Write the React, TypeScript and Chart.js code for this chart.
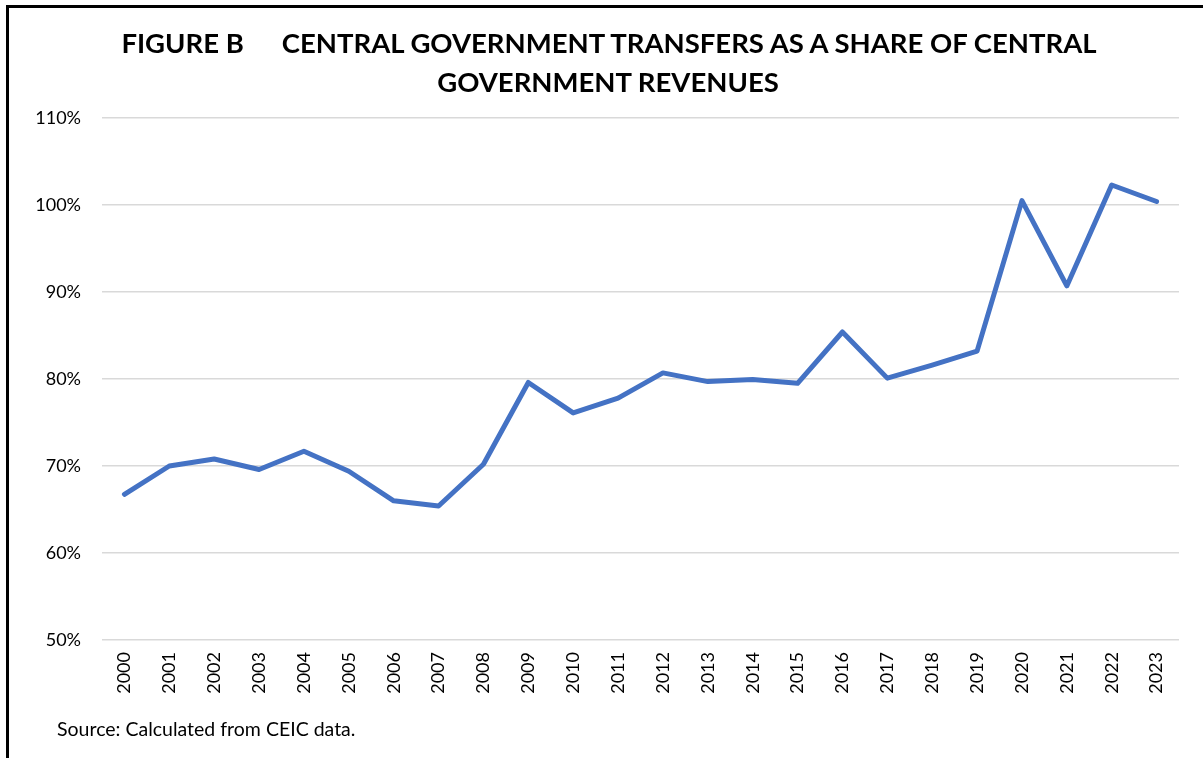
import React, { useEffect, useRef } from "react";
import { Chart, registerables } from "chart.js";

Chart.register(...registerables);

const years = [
  "2000", "2001", "2002", "2003", "2004", "2005", "2006", "2007", "2008", "2009",
  "2010", "2011", "2012", "2013", "2014", "2015", "2016", "2017", "2018", "2019",
  "2020", "2021", "2022", "2023",
];

const transferShare = [
  66.75, 70.0, 70.8, 69.6, 71.7, 69.4, 66.0, 65.4, 70.2, 79.6,
  76.1, 77.8, 80.7, 79.7, 79.95, 79.5, 85.4, 80.1, 81.6, 83.2,
  100.5, 90.7, 102.3, 100.4,
];

const yMin = 50;
const yMax = 110;
const yStep = 10;

const titleLine1a = "FIGURE B";
const titleLine1b = "CENTRAL GOVERNMENT TRANSFERS AS A SHARE OF CENTRAL";
const titleLine2 = "GOVERNMENT REVENUES";
const sourceText = "Source: Calculated from CEIC data.";

const FONT = "Lato, 'Open Sans', 'Liberation Sans', sans-serif";

export default function App() {
  const canvasRef = useRef<HTMLCanvasElement | null>(null);

  useEffect(() => {
    if (!canvasRef.current) return;
    const chart = new Chart(canvasRef.current, {
      type: "line",
      data: {
        labels: years,
        datasets: [
          {
            data: transferShare,
            borderColor: "#4472C4",
            backgroundColor: "#4472C4",
            borderWidth: 5,
            pointRadius: 0,
            tension: 0,
            borderJoinStyle: "round",
            borderCapStyle: "round",
          },
        ],
      },
      options: {
        responsive: false,
        animation: false,
        devicePixelRatio: 1,
        layout: { padding: { left: 0, right: 24, top: 118, bottom: 0 } },
        plugins: {
          legend: { display: false },
          title: { display: false },
          tooltip: { enabled: false },
        },
        scales: {
          x: {
            type: "category",
            offset: true,
            grid: { display: false, drawTicks: false },
            border: { display: false },
            ticks: {
              minRotation: 90,
              maxRotation: 90,
              autoSkip: false,
              padding: 12,
              color: "#000",
              font: { family: FONT, size: 18 },
            },
            afterFit: (scale: any) => {
              scale.height = 118;
            },
          },
          y: {
            min: yMin,
            max: yMax,
            grid: { color: "#d9d9d9", lineWidth: 1.5, drawTicks: false },
            border: { display: false },
            ticks: {
              stepSize: yStep,
              padding: 21,
              color: "#000",
              font: { family: FONT, size: 18 },
              callback: (v: any) => `${v}%`,
            },
            afterFit: (scale: any) => {
              scale.width = 102;
            },
          },
        },
      },
    });
    return () => chart.destroy();
  }, []);

  return (
    <div
      style={{
        position: "fixed",
        left: 0,
        top: 0,
        width: 1203,
        height: 758,
        overflow: "hidden",
        background: "#fff",
        fontFamily: FONT,
      }}
    >
      <div
        style={{
          position: "absolute",
          left: 6,
          top: 5,
          width: 1400,
          height: 1000,
          borderLeft: "3px solid #000",
          borderTop: "3px solid #000",
        }}
      />
      <canvas
        ref={canvasRef}
        width={1203}
        height={758}
        style={{ position: "absolute", left: 0, top: 0, display: "block" }}
      />
      <div
        style={{
          position: "absolute",
          left: 609,
          top: 42,
          transform: "translate(-50%, -50%)",
          whiteSpace: "nowrap",
          fontWeight: 700,
          fontSize: 27.5,
          color: "#000",
        }}
      >
        <span>{titleLine1a}</span>
        <span style={{ marginLeft: 38 }}>{titleLine1b}</span>
      </div>
      <div
        style={{
          position: "absolute",
          left: 608,
          top: 81,
          transform: "translate(-50%, -50%)",
          whiteSpace: "nowrap",
          fontWeight: 700,
          fontSize: 27.5,
          color: "#000",
        }}
      >
        {titleLine2}
      </div>
      <div
        style={{
          position: "absolute",
          left: 57,
          top: 728,
          transform: "translateY(-50%)",
          whiteSpace: "nowrap",
          fontSize: 19.5,
          color: "#000",
        }}
      >
        {sourceText}
      </div>
    </div>
  );
}
